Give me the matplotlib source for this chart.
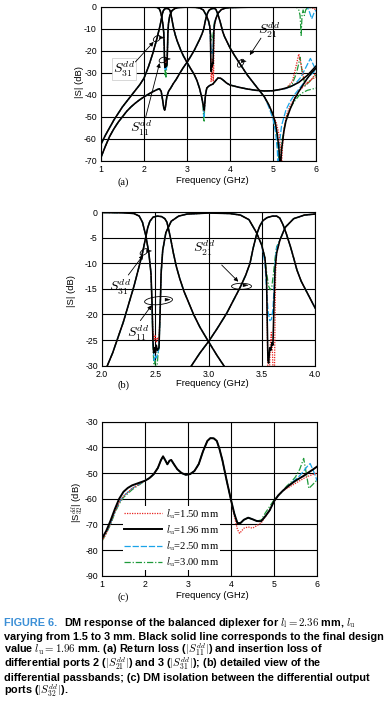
import matplotlib
matplotlib.use("Agg")
import matplotlib.pyplot as plt
import numpy as np
from matplotlib.patches import Ellipse, Polygon
from matplotlib.transforms import IdentityTransform

W, H = 386, 708

plt.rcParams['font.family'] = ['Liberation Sans', 'DejaVu Sans']
plt.rcParams['mathtext.fontset'] = 'cm'
plt.rcParams['axes.unicode_minus'] = False

# ---------------- data: panel (a)/(b), lu = 1.96 mm (black) ----------------
s31_f = [1.0, 1.1, 1.2, 1.3, 1.4, 1.5, 1.6, 1.7, 1.8, 1.9, 2.0, 2.05, 2.1, 2.15, 2.2, 2.25,
         2.3, 2.35, 2.38, 2.41, 2.43, 2.45, 2.48, 2.52, 2.56, 2.59, 2.61, 2.63, 2.65, 2.67,
         2.7, 2.73, 2.77, 2.81, 2.86, 2.92, 3.0, 3.08, 3.16, 3.23, 3.29, 3.34, 3.37, 3.39,
         3.40, 3.41, 3.43, 3.46, 3.5, 3.55, 3.6, 3.66, 3.72, 3.78, 3.85, 3.92, 4.0, 4.2,
         4.4, 4.6, 4.8, 5.0, 5.2, 5.4, 5.6, 5.8, 6.0]
s31_black = [-62.5, -58.5, -55, -51.5, -48.5, -45.5, -43, -40.5, -38, -35.5, -32.5, -30, -27.5,
             -24.5, -21.5, -18, -14.5, -10.5, -8, -5, -3, -1.8, -1.0, -0.8, -0.9, -1.3, -2,
             -3.8, -5.8, -8, -10.8, -13, -15.5, -17.5, -20, -22.5, -25.3, -28, -30.5, -33.5,
             -37, -41, -44, -46, -47, -45, -40, -37, -36.2, -35.6, -35.2, -33.8, -32.4, -32.5,
             -33.5, -34.7, -35.6, -36.6, -37.4, -38, -38.3, -38.2, -37.5, -36.4, -34.4, -31.2, -27]

s21_f = [1.0, 1.1, 1.2, 1.3, 1.4, 1.5, 1.6, 1.7, 1.8, 1.9, 2.0, 2.1, 2.2, 2.3, 2.36, 2.4,
         2.43, 2.46, 2.48, 2.5, 2.53, 2.57, 2.62, 2.68, 2.75, 2.84, 2.92, 3.0, 3.08, 3.17,
         3.24, 3.3, 3.35, 3.39, 3.42, 3.45, 3.48, 3.51, 3.55, 3.6, 3.64, 3.67, 3.7, 3.73,
         3.77, 3.8, 3.83, 3.87, 3.92, 4.0, 4.1, 4.2, 4.3, 4.4, 4.5, 4.6, 4.7, 4.8, 4.9,
         5.0, 5.05, 5.1, 5.14, 5.17, 5.2, 5.25, 5.3, 5.4, 5.5, 5.6, 5.7, 5.8, 5.9, 6.0]
s21_black = [-68.5, -63.5, -59, -55.5, -52.5, -50, -47.5, -45.5, -43.8, -42.3, -41, -39.8, -38.7,
             -37.7, -37.3, -38.5, -42, -46, -47, -45.5, -41, -38.5, -37, -35, -33, -30, -27.5,
             -25.3, -22.8, -19.8, -17, -14.6, -12.3, -10, -7, -4.5, -2.8, -1.7, -1.1, -0.8,
             -0.8, -1.2, -2.5, -4.2, -6.8, -9, -11.3, -13.5, -15.5, -18.7, -22, -25, -28, -31,
             -33.5, -36, -38.5, -41, -44.5, -49, -52.5, -58, -65, -74, -65, -57, -52, -46.5,
             -42, -38.5, -35.5, -32.5, -30, -28]

s11_f = [1.0, 1.5, 2.0, 2.2, 2.3, 2.35, 2.38, 2.41, 2.44, 2.46, 2.47, 2.478, 2.485, 2.495,
         2.502, 2.51, 2.52, 2.535, 2.545, 2.555, 2.57, 2.6, 2.65, 2.72, 2.8, 3.0, 3.2, 3.3,
         3.38, 3.45, 3.5, 3.53, 3.545, 3.552, 3.558, 3.565, 3.575, 3.585, 3.595, 3.605,
         3.615, 3.625, 3.64, 3.67, 3.72, 3.8, 3.9, 4.0, 4.5, 5.0, 5.5, 6.0]
s11_black = [-0.05, -0.05, -0.1, -0.15, -0.3, -0.8, -2, -4.5, -8, -12, -18, -25, -27.5, -26.5,
             -27.5, -26, -27, -26.5, -20, -12, -7.5, -4, -1.8, -0.8, -0.4, -0.2, -0.3, -0.6,
             -1.5, -4, -6.5, -9, -13, -22, -29, -29.5, -26.5, -27, -25.5, -26, -18, -11, -8,
             -5.5, -3, -1.3, -0.6, -0.4, -0.2, -0.15, -0.2, -0.3]

# deviations of the other lu values (segments that differ from the black curve)
s11_red_f = [[2.47, 2.478, 2.49, 2.50, 2.51, 2.52, 2.535, 2.545],
             [3.545, 3.552, 3.56, 3.57, 3.58, 3.59, 3.60, 3.61, 3.62, 3.63],
             [5.9, 5.97, 6.0]]
s11_red = [[-18, -23, -25, -24, -25.5, -24.5, -25, -20],
           [-13, -24, -34, -33, -26, -23.5, -27, -34, -30, -12],
           [-0.3, -1.2, -0.6]]
s11_blue_f = [[2.478, 2.49, 2.50, 2.51, 2.525, 2.535],
              [3.5, 3.53, 3.545, 3.56, 3.575, 3.59, 3.605, 3.615, 3.625, 3.64],
              [5.8, 5.85, 5.9, 5.95, 6.0]]
s11_blue = [[-25, -29, -28, -28.5, -27.5, -26.5],
            [-6.5, -10, -15, -19.5, -21.2, -21, -19, -15, -10, -7],
            [-0.3, -2.5, -5.5, -3, -1.5]]
s11_green_f = [[2.478, 2.49, 2.50, 2.51, 2.525, 2.535],
               [3.5, 3.53, 3.55, 3.565, 3.58, 3.595, 3.61, 3.625, 3.64],
               [5.55, 5.6, 5.63, 5.655, 5.675, 5.7, 5.73, 5.76, 5.8]]
s11_green = [[-26, -31, -29, -32, -28, -26.5],
             [-6.3, -9, -12.5, -14.5, -15.2, -14.5, -12, -9, -6.8],
             [-0.3, -1.5, -4, -13, -4, -1.5, -4, -1.5, -0.5]]

s31_red_f = [[3.37, 3.39, 3.40, 3.41, 3.43],
             [5.3, 5.45, 5.52, 5.6, 5.66, 5.72, 5.8, 5.9, 6.0]]
s31_red = [[-44, -46.5, -47.5, -45, -40],
           [-37.2, -34, -28.5, -21.5, -27, -33, -35, -33, -30]]
s31_blue_f = [[3.37, 3.39, 3.40, 3.41, 3.43],
              [5.3, 5.5, 5.65, 5.78, 5.87, 5.93, 6.0]]
s31_blue = [[-44, -48, -50, -45, -40],
            [-37.2, -35.5, -32, -27, -23.5, -26, -29]]
s31_green_f = [[3.37, 3.39, 3.40, 3.41, 3.43],
               [5.3, 5.45, 5.55, 5.63, 5.68, 5.75, 5.85, 6.0]]
s31_green = [[-45, -51.5, -52, -45, -40],
             [-37.2, -35, -30, -23, -30, -36, -34, -31]]

s21_red_f = [[5.0, 5.08, 5.14, 5.18, 5.2, 5.22, 5.26, 5.32, 5.4, 5.5, 5.6, 5.7, 5.8, 5.9, 6.0]]
s21_red = [[-49, -53, -58, -65, -72, -64, -55, -49, -45, -41.5, -38.5, -36.5, -34.5, -33, -32]]
s21_blue_f = [[4.9, 5.0, 5.06, 5.1, 5.12, 5.15, 5.2, 5.3, 5.4, 5.5, 5.6, 5.7, 5.8, 5.9, 6.0]]
s21_blue = [[-45.5, -51, -57, -65, -74, -62, -54, -47, -43, -40, -37.5, -35, -32.5, -30.5, -29]]
s21_green_f = [[5.0, 5.06, 5.1, 5.13, 5.16, 5.2, 5.3, 5.4, 5.5, 5.6, 5.7, 5.8, 5.9, 6.0]]
s21_green = [[-49.5, -54, -60, -68, -74, -62, -51, -46, -43, -40.5, -39, -38, -37.5, -37]]

# ---------------- data: panel (c) ----------------
s32_f = [1.0, 1.1, 1.2, 1.3, 1.4, 1.5, 1.6, 1.7, 1.8, 1.9, 2.0, 2.1, 2.2, 2.3, 2.37, 2.42,
         2.47, 2.52, 2.57, 2.61, 2.67, 2.75, 2.85, 2.95, 3.05, 3.15, 3.25, 3.35, 3.45, 3.52,
         3.6, 3.67, 3.73, 3.8, 3.9, 4.0, 4.08, 4.15, 4.22, 4.3, 4.4, 4.5, 4.6, 4.7, 4.8,
         4.9, 5.0, 5.1, 5.2, 5.3, 5.4, 5.5, 5.6, 5.7, 5.8, 5.9, 6.0]
s32_black = [-75.5, -72.5, -68.5, -64, -60, -57.3, -55.8, -54.8, -54.2, -53.6, -53, -52, -50.5,
             -48, -45, -43.5, -45, -46.6, -45.2, -44.9, -46.5, -48.5, -50, -50.7, -50.4, -49.2,
             -46.5, -41.5, -37.5, -36.4, -36.5, -37.5, -40.5, -45, -53, -60.5, -66, -69.5,
             -69.5, -68.2, -67.4, -68, -68.7, -68.8, -66.8, -64.5, -61, -58.7, -57, -55.5,
             -54.2, -53, -52, -51, -49.8, -48.7, -47.5]
s32_red_f = [[1.0, 1.1, 1.2, 1.3, 1.4, 1.5, 1.6, 1.7, 1.8, 1.9],
             [4.08, 4.15, 4.2, 4.25, 4.3, 4.4, 4.5, 4.6, 4.7, 4.8],
             [5.3, 5.4, 5.5, 5.6, 5.7, 5.8, 5.9, 6.0]]
s32_red = [[-76.5, -73.5, -69.5, -65, -61.5, -59, -57.5, -56, -55, -54],
           [-67, -72, -73.5, -72.5, -71.5, -71, -71.5, -70.5, -69.5, -67],
           [-56, -55, -54, -53, -52, -51.2, -50.6, -50]]
s32_blue_f = [[1.0, 1.1, 1.2, 1.3, 1.4, 1.5, 1.6, 1.7, 1.8, 1.9],
              [5.3, 5.4, 5.5, 5.6, 5.7, 5.77, 5.84, 5.9, 5.96, 6.0]]
s32_blue = [[-75.5, -73, -69.5, -65, -61.5, -59, -57.5, -56, -55, -54],
            [-55.5, -54, -52.5, -51, -49, -47.5, -46.3, -48.5, -51, -53]]
s32_green_f = [[1.0, 1.1, 1.2, 1.3, 1.4, 1.5, 1.6, 1.7, 1.8, 1.9],
               [4.7, 4.8, 4.9, 5.0],
               [5.3, 5.4, 5.5, 5.6, 5.69, 5.75, 5.81, 5.9, 6.0]]
s32_green = [[-76.5, -73.5, -70, -65.5, -62, -59.5, -58, -56.5, -55.3, -54.2],
             [-68.3, -65.5, -63, -60.5],
             [-55, -53.5, -51.5, -48.5, -44.3, -50, -56, -54.5, -52.7]]

legend_labels = [r'$l_\mathrm{u}$=1.50 mm', r'$l_\mathrm{u}$=1.96 mm',
                 r'$l_\mathrm{u}$=2.50 mm', r'$l_\mathrm{u}$=3.00 mm']

xticks_a = [1, 2, 3, 4, 5, 6]
yticks_a = [0, -10, -20, -30, -40, -50, -60, -70]
xticks_b = [2.0, 2.5, 3.0, 3.5, 4.0]
yticks_b = [0, -5, -10, -15, -20, -25, -30]
yticks_c = [-30, -40, -50, -60, -70, -80, -90]

styles = {
    'red': dict(color='#e8231f', ls=(0, (1, 1)), lw=0.9),
    'blue': dict(color='#1aa3e8', ls=(0, (5, 1.5)), lw=0.9),
    'green': dict(color='#1e9a3a', ls=(0, (5, 1.5, 1, 1.5)), lw=0.9),
    'black': dict(color='k', ls='-', lw=1.15),
}


def splice(f, v, pfs, pvs):
    f = np.asarray(f, float)
    v = np.asarray(v, float)
    for pf, pv in zip(pfs, pvs):
        keep = (f < min(pf)) | (f > max(pf))
        f = np.concatenate([f[keep], pf])
        v = np.concatenate([v[keep], pv])
        order = np.argsort(f, kind='stable')
        f, v = f[order], v[order]
    return f, v


fig = plt.figure(figsize=(W / 100, H / 100), dpi=100)


def px_axes(l, t, r, b):
    return fig.add_axes([l / W, 1 - b / H, (r - l) / W, (b - t) / H])


def ftext(x, y, s, **kw):
    return fig.text(x / W, 1 - y / H, s, **kw)


def grid_lines(ax, xt, yt, xlim, ylim):
    # plain black grid, drawn as ordinary lines before the curves
    for t in xt:
        ax.plot([t, t], list(ylim), color='k', lw=0.8, zorder=1.9)
    for t in yt:
        ax.plot(list(xlim), [t, t], color='k', lw=0.8, zorder=1.9)
    ax.set_xlim(*xlim)
    ax.set_ylim(*ylim)


def style_axes(ax, xt, xl, yt, yl):
    ax.set_xticks(xt)
    ax.set_xticklabels(xl)
    ax.set_yticks(yt)
    ax.set_yticklabels(yl)
    ax.tick_params(length=0, labelsize=6.3, pad=3)
    for sp in ax.spines.values():
        sp.set_linewidth(0.8)


axA = px_axes(101, 6.7, 316, 160.7)
axB = px_axes(102, 212, 315, 365.7)
axC = px_axes(102, 421.7, 317, 575.7)

grid_lines(axA, xticks_a, yticks_a, (1, 6), (-70, 0))
grid_lines(axB, xticks_b, yticks_b, (2, 4), (-30, 0))
grid_lines(axC, xticks_a, yticks_c, (1, 6), (-90, -30))

sets = [
    (s11_f, s11_black, {'red': (s11_red_f, s11_red), 'blue': (s11_blue_f, s11_blue),
                        'green': (s11_green_f, s11_green)}),
    (s21_f, s21_black, {'red': (s21_red_f, s21_red), 'blue': (s21_blue_f, s21_blue),
                        'green': (s21_green_f, s21_green)}),
    (s31_f, s31_black, {'red': (s31_red_f, s31_red), 'blue': (s31_blue_f, s31_blue),
                        'green': (s31_green_f, s31_green)}),
]
for ax in (axA, axB):
    for f, v, dev in sets:
        for name in ('green', 'blue', 'red'):
            ff, vv = splice(f, v, *dev[name])
            ax.plot(ff, vv, zorder=2, **styles[name])
        ax.plot(f, v, zorder=2.1, **styles['black'])

style_axes(axA, xticks_a, [str(t) for t in xticks_a], yticks_a, [str(t) for t in yticks_a])
style_axes(axB, xticks_b, [f'{t:.1f}' for t in xticks_b], yticks_b, [str(t) for t in yticks_b])

# panel (c)
handles = {}
for name, (pf, pv) in (('green', (s32_green_f, s32_green)), ('blue', (s32_blue_f, s32_blue)),
                       ('red', (s32_red_f, s32_red))):
    ff, vv = splice(s32_f, s32_black, pf, pv)
    handles[name], = axC.plot(ff, vv, zorder=2, **styles[name])
handles['black'], = axC.plot(s32_f, s32_black, color='k', lw=1.4, zorder=2.1)
style_axes(axC, xticks_a, [str(t) for t in xticks_a], yticks_c, [str(t) for t in yticks_c])
leg = axC.legend([handles['red'], handles['black'], handles['blue'], handles['green']],
                 legend_labels, loc='upper left',
                 bbox_to_anchor=(123 / W, 1 - 506 / H), bbox_transform=fig.transFigure,
                 prop={'family': 'Liberation Serif', 'size': 7.6}, handlelength=3.6,
                 handletextpad=0.4, labelspacing=0.22, borderpad=0.1, borderaxespad=0,
                 frameon=True, fancybox=False)
leg.get_frame().set_edgecolor('none')
leg.get_frame().set_facecolor('white')
leg.get_frame().set_alpha(1)
leg.set_zorder(5)

# annotations
lab = dict(fontsize=10, ha='center', va='center')
arr = dict(arrowstyle='-|>', color='k', lw=0.6, mutation_scale=6, shrinkA=0, shrinkB=0)


def ring(ax, x, y, w, h, ang, hx, hy):
    cx, cy = ax.transData.transform((x, y))
    fig.add_artist(Ellipse((cx, cy), w, h, angle=ang, transform=IdentityTransform(),
                           fill=False, lw=0.6, ec='k'))
    fig.add_artist(Polygon([[cx + hx - 2.5, cy + hy + 1.5], [cx + hx + 2.5, cy + hy],
                            [cx + hx - 2.5, cy + hy - 1.5]], closed=True, fc='k',
                           ec='k', lw=0.3, transform=IdentityTransform()))


axA.text(1.536, -28.5, r'$S_{31}^{dd}$', bbox=dict(boxstyle='square,pad=0.1', fc='white',
                                                    ec='#c8c8c8', lw=0.5), **lab)
axA.annotate('', xy=(2.224, -16.0), xytext=(1.80, -25.1), arrowprops=arr)
ring(axA, 2.30, -14.5, 8, 5, 35, 5, 1)
axA.text(1.94, -55.3, r'$S_{11}^{dd}$', **lab)
axA.annotate('', xy=(2.363, -25.6), xytext=(2.04, -50.1), arrowprops=arr)
ring(axA, 2.44, -24.2, 8, 5, 25, 5, 1)
axA.text(4.90, -11.0, r'$S_{21}^{dd}$', **lab)
axA.annotate('', xy=(4.46, -22.0), xytext=(4.72, -14.3), arrowprops=arr)
ring(axA, 4.25, -25.7, 9, 5, 55, 3, 2)

axB.text(2.169, -14.7, r'$S_{31}^{dd}$', **lab)
axB.annotate('', xy=(2.388, -8.4), xytext=(2.247, -12.3), arrowprops=arr)
ring(axB, 2.395, -7.8, 9, 5, 35, 5, 1)
axB.text(2.341, -23.7, r'$S_{11}^{dd}$', **lab)
axB.annotate('', xy=(2.467, -18.2), xytext=(2.36, -21.2), arrowprops=arr)
ring(axB, 2.531, -17.3, 28, 8, 5, 9, 1)
axB.text(2.96, -7.2, r'$S_{21}^{dd}$', **lab)
axB.annotate('', xy=(3.28, -13.6), xytext=(3.124, -10.35), arrowprops=arr)
ring(axB, 3.31, -14.5, 20, 6, 0, 4, 1)

# axis titles and panel letters
axis_fs = 6.8
ftext(80, 82, '|S| (dB)', rotation=90, ha='center', va='center', fontsize=axis_fs)
ftext(72, 291, '|S| (dB)', rotation=90, ha='center', va='center', fontsize=axis_fs)
ftext(77, 502, r'|S${}^{dd}_{32}$| (dB)', rotation=90, ha='center', va='center',
      fontsize=axis_fs)
for y, letter in ((182.5, '(a)'), (385, '(b)'), (597, '(c)')):
    ftext(123, y, letter, ha='center', va='center', fontsize=7.5, family='Liberation Serif')
    ftext(212, y - 2, 'Frequency (GHz)', ha='center', va='center', fontsize=axis_fs)

# caption
blue_c = '#3b8fd6'
cap_lines = [
    'varying from 1.5 to 3 mm. Black solid line corresponds to the final design',
    r'value $l_\mathrm{u} = 1.96$ mm. (a) Return loss ($|S_{11}^{dd}|$) and insertion loss of',
    r'differential ports 2 ($|S_{21}^{dd}|$) and 3 ($|S_{31}^{dd}|$); (b) detailed view of the',
    'differential passbands; (c) DM isolation between the differential output',
    r'ports ($|S_{32}^{dd}|$).',
]
r = fig.canvas.get_renderer()
probe = ftext(4, 640, cap_lines[0], fontsize=7, weight='bold', va='baseline')
cap_fs = 7 * 379 / probe.get_window_extent(r).width
probe.remove()

t1 = ftext(4, 626, 'FIGURE 6.', fontsize=cap_fs, weight='bold', color=blue_c, va='baseline')
w1 = t1.get_window_extent(r).width
ftext(4 + w1 + 6.5, 626,
      r'DM response of the balanced diplexer for $l_\mathrm{l} = 2.36$ mm, $l_\mathrm{u}$',
      fontsize=cap_fs, weight='bold', va='baseline')
for i, line in enumerate(cap_lines):
    ftext(4, 640 + 13.6 * i, line, fontsize=cap_fs, weight='bold', va='baseline')

fig.savefig('out.png', dpi=100)
